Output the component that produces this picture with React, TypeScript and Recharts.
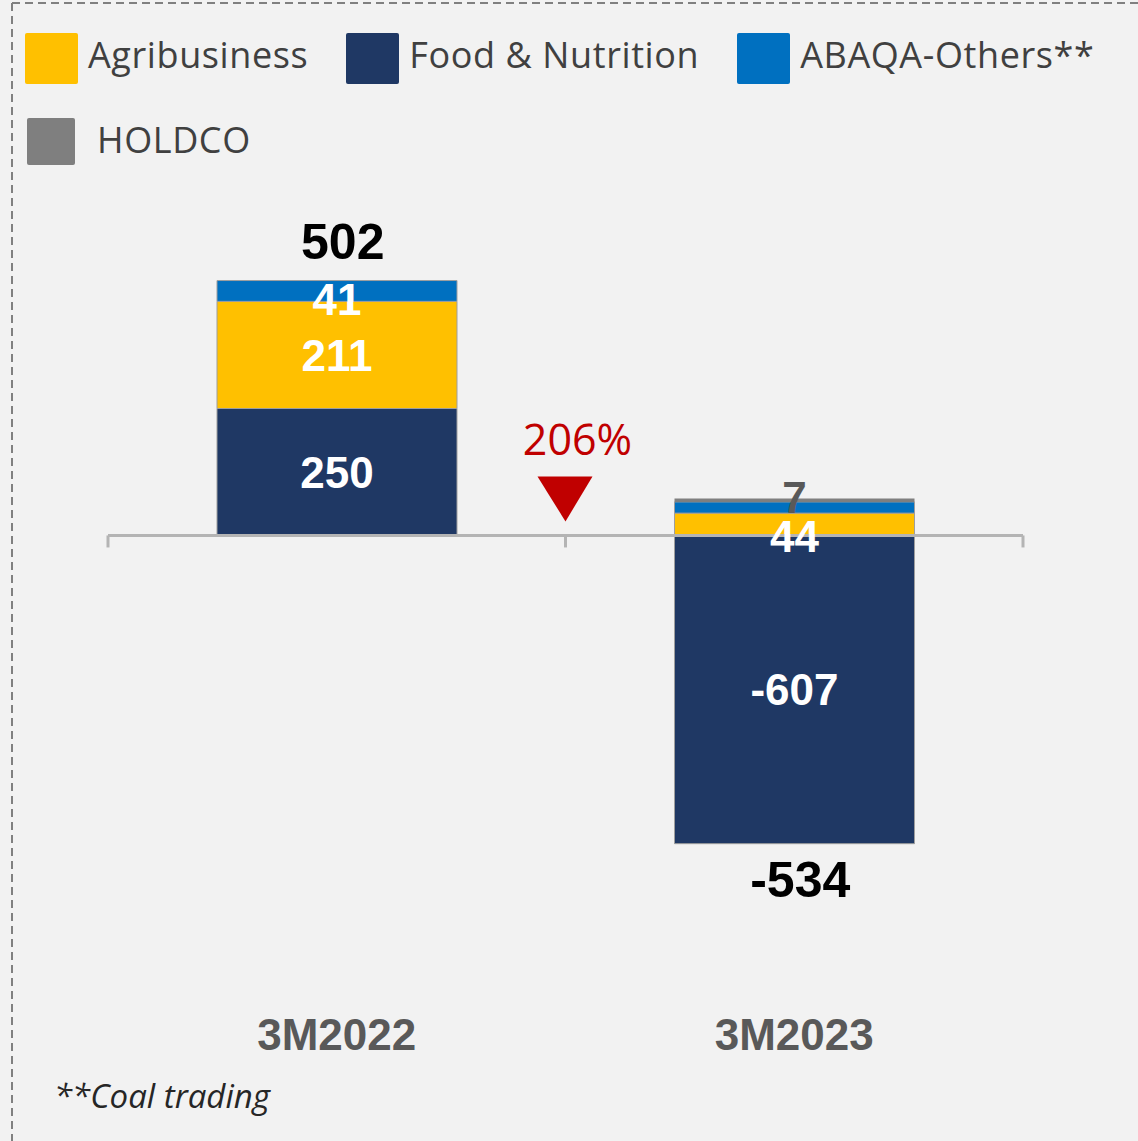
import React from 'react';
import { BarChart, Bar, XAxis, YAxis, ReferenceLine, ReferenceDot, LabelList } from 'recharts';

// ---------- data ----------
const categories = ['3M2022', '3M2023'];
const foodNutrition = [250, -607];
const agribusiness = [211, 44];
const abaqaOthers = [41, 22];
const holdco = [0, 7];
const totals = [502, -534];

const foodLabels = ['250', '-607'];
const agriLabels = ['211', '44'];
const abaqaLabels = ['41', ''];
const holdcoLabels = ['', '7'];
const totalLabels = ['502', '-534'];

const changeLabel = '206%';
const footnote = '**Coal trading';

const seriesNames = ['Agribusiness', 'Food & Nutrition', 'ABAQA-Others**', 'HOLDCO'];
const seriesColors = ['#FFC000', '#1F3864', '#0070C0', '#7F7F7F'];

const data = categories.map((cat, i) => ({
  cat,
  food: foodNutrition[i],
  agri: agribusiness[i],
  abaqa: abaqaOthers[i],
  holdco: holdco[i],
  foodLabel: foodLabels[i],
  agriLabel: agriLabels[i],
  abaqaLabel: abaqaLabels[i],
  holdcoLabel: holdcoLabels[i],
}));

// extremes of the stacks, used to anchor total labels
const stackExtremes = categories.map((_, i) => {
  const vals = [foodNutrition[i], agribusiness[i], abaqaOthers[i], holdco[i]];
  const pos = vals.filter((v) => v > 0).reduce((a, b) => a + b, 0);
  const neg = vals.filter((v) => v < 0).reduce((a, b) => a + b, 0);
  return totals[i] >= 0 ? pos : neg;
});

const ARIAL = '"Liberation Sans", Arial, sans-serif';
const OPEN = '"Open Sans", "Noto Sans", sans-serif';

const makeLabel = (color: string, smallShift: number) => (props: any) => {
  const { x, y, width, height, value } = props;
  if (value === '' || value === undefined || value === null) return null;
  const h = Number(height) || 0;
  let cy = Number(y) + h / 2;
  if (Math.abs(h) < 30) cy += smallShift;
  return (
    <text
      x={Number(x) + Number(width) / 2}
      y={cy}
      dy="0.36em"
      textAnchor="middle"
      fill={color}
      fontFamily={ARIAL}
      fontWeight="bold"
      fontSize={44}
    >
      {value}
    </text>
  );
};

const AxisShape = (props: any) => {
  const { x1, y1, x2 } = props;
  const mid = (x1 + x2) / 2;
  const y = y1;
  return (
    <g>
      <line x1={x1} y1={y} x2={x2} y2={y} stroke="#B4B4B4" strokeWidth={3} />
      {[x1, mid, x2].map((tx, i) => (
        <line key={i} x1={tx} y1={y} x2={tx} y2={y + 12} stroke="#B4B4B4" strokeWidth={3} />
      ))}
      <polygon
        points={`${mid - 28},${y - 59} ${mid + 27},${y - 59} ${mid},${y - 14}`}
        fill="#C00000"
      />
      <text
        x={mid + 12}
        y={y - 80}
        textAnchor="middle"
        fill="#C00000"
        fontFamily={OPEN}
        fontSize={43}
      >
        {changeLabel}
      </text>
    </g>
  );
};

const CategoryTick = (props: any) => {
  const { x, y, payload } = props;
  return (
    <text
      x={x}
      y={y + 88}
      textAnchor="middle"
      fill="#595959"
      fontFamily={ARIAL}
      fontWeight="bold"
      fontSize={44}
    >
      {payload.value}
    </text>
  );
};

export default function App() {
  return (
    <div
      style={{
        position: 'absolute',
        left: 0,
        top: 0,
        width: 1138,
        height: 1141,
        background: '#F2F2F2',
        overflow: 'hidden',
      }}
    >
      <div style={{ position: 'absolute', left: 0, top: 0 }}>
        <BarChart
          width={1138}
          height={1141}
          data={data}
          stackOffset="sign"
          margin={{ top: 180, right: 115, bottom: 79, left: 108 }}
          barSize={240}
        >
          <YAxis hide domain={[-840, 700]} type="number" allowDataOverflow />
          <XAxis
            dataKey="cat"
            axisLine={false}
            tickLine={false}
            tickSize={0}
            tickMargin={0}
            height={100}
            tick={<CategoryTick />}
            interval={0}
          />
          <ReferenceLine y={0} shape={<AxisShape />} />
          <Bar dataKey="food" stackId="s" fill={seriesColors[1]} stroke="#9E9E9E" strokeWidth={1} isAnimationActive={false}>
            <LabelList dataKey="foodLabel" content={makeLabel('#FFFFFF', 0)} />
          </Bar>
          <Bar dataKey="agri" stackId="s" fill={seriesColors[0]} stroke="#9E9E9E" strokeWidth={1} isAnimationActive={false}>
            <LabelList dataKey="agriLabel" content={makeLabel('#FFFFFF', 12)} />
          </Bar>
          <Bar dataKey="abaqa" stackId="s" fill={seriesColors[2]} stroke="#9E9E9E" strokeWidth={1} isAnimationActive={false}>
            <LabelList dataKey="abaqaLabel" content={makeLabel('#FFFFFF', 8)} />
          </Bar>
          <Bar dataKey="holdco" stackId="s" fill={seriesColors[3]} isAnimationActive={false}>
            <LabelList dataKey="holdcoLabel" content={makeLabel('#595959', -3)} />
          </Bar>
          {categories.map((c, i) => (
            <ReferenceDot
              key={c}
              x={c}
              y={stackExtremes[i]}
              r={0}
              shape={(p: any) => (
                <text
                  x={p.cx + 6}
                  y={totals[i] >= 0 ? p.cy - 22 : p.cy + 53}
                  textAnchor="middle"
                  fill="#000000"
                  fontFamily={ARIAL}
                  fontWeight="bold"
                  fontSize={50}
                >
                  {totalLabels[i]}
                </text>
              )}
            />
          ))}
        </BarChart>
      </div>

      <svg width={1138} height={1141} style={{ position: 'absolute', left: 0, top: 0, pointerEvents: 'none' }}>
        <line x1={12} y1={3} x2={1138} y2={3} stroke="#808080" strokeWidth={2} strokeDasharray="8 5" />
        <line x1={12} y1={3} x2={12} y2={1141} stroke="#808080" strokeWidth={2} strokeDasharray="8 5" />
        <text x={54} y={1108} fontFamily={OPEN} fontStyle="italic" fontSize={33} fill="#262626">
          {footnote}
        </text>
      </svg>

      <div
        style={{
          position: 'absolute',
          left: 25,
          top: 33,
          width: 1110,
          display: 'flex',
          flexWrap: 'wrap',
          columnGap: 38,
          rowGap: 32,
          fontFamily: OPEN,
          fontSize: 36,
          letterSpacing: 0.6,
          color: '#404040',
        }}
      >
        {seriesNames.map((n, i) => (
          <div key={n} style={{ display: 'flex', alignItems: 'center', height: 51 }}>
            <div
              style={{
                width: i === 3 ? 48 : 53,
                height: i === 3 ? 47 : 51,
                marginLeft: i === 3 ? 2 : 0,
                background: seriesColors[i],
                borderRadius: 2,
                marginRight: i === 3 ? 22 : 10,
              }}
            />
            <span
              style={{
                lineHeight: '51px',
                whiteSpace: 'nowrap',
                position: 'relative',
                top: i === 3 ? -2 : -4,
              }}
            >
              {n}
            </span>
          </div>
        ))}
      </div>
    </div>
  );
}
